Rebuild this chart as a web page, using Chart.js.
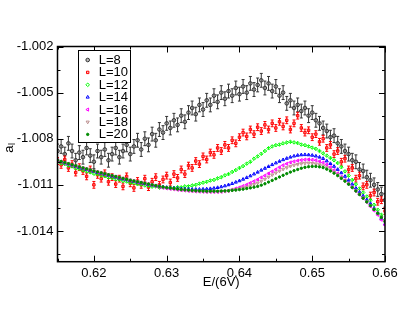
<!DOCTYPE html>
<html>
<head>
<meta charset="utf-8">
<script src="https://cdn.jsdelivr.net/npm/chart.js@4.4.0/dist/chart.umd.min.js"></script>
<style>
  body { margin: 0; background: #fff; }
  #wrap { width: 402px; height: 311px; }
</style>
</head>
<body>
<div id="wrap"><canvas id="chart" width="402" height="311"></canvas></div>
<script>
// E/(6V) grid shared by all sets
const xValues = [
  0.6150, 0.6155, 0.6160, 0.6165, 0.6170, 0.6175, 0.6180, 0.6185, 0.6190, 0.6195,
  0.6200, 0.6205, 0.6210, 0.6215, 0.6220, 0.6225, 0.6230, 0.6235, 0.6240, 0.6245,
  0.6250, 0.6255, 0.6260, 0.6265, 0.6270, 0.6275, 0.6280, 0.6285, 0.6290, 0.6295,
  0.6300, 0.6305, 0.6310, 0.6315, 0.6320, 0.6325, 0.6330, 0.6335, 0.6340, 0.6345,
  0.6350, 0.6355, 0.6360, 0.6365, 0.6370, 0.6375, 0.6380, 0.6385, 0.6390, 0.6395,
  0.6400, 0.6405, 0.6410, 0.6415, 0.6420, 0.6425, 0.6430, 0.6435, 0.6440, 0.6445,
  0.6450, 0.6455, 0.6460, 0.6465, 0.6470, 0.6475, 0.6480, 0.6485, 0.6490, 0.6495,
  0.6500, 0.6505, 0.6510, 0.6515, 0.6520, 0.6525, 0.6530, 0.6535, 0.6540, 0.6545,
  0.6550, 0.6555, 0.6560, 0.6565, 0.6570, 0.6575, 0.6580, 0.6585, 0.6590, 0.6595,
  0.6600
];

const seriesLabels = ['L=8', 'L=10', 'L=12', 'L=14', 'L=16', 'L=18', 'L=20'];

const aL8 = [
  -1.00880, -1.00850, -1.00900, -1.00830, -1.00880, -1.00940, -1.00890, -1.00920, -1.00860, -1.00910,
  -1.00950, -1.00880, -1.00920, -1.00870, -1.00940, -1.00900, -1.00860, -1.00920, -1.00880, -1.00840,
  -1.00900, -1.00850, -1.00810, -1.00870, -1.00800, -1.00840, -1.00770, -1.00810, -1.00740, -1.00760,
  -1.00700, -1.00730, -1.00680, -1.00710, -1.00650, -1.00690, -1.00630, -1.00600, -1.00640, -1.00580,
  -1.00610, -1.00550, -1.00580, -1.00520, -1.00560, -1.00500, -1.00540, -1.00490, -1.00520, -1.00470,
  -1.00510, -1.00460, -1.00500, -1.00440, -1.00480, -1.00450, -1.00420, -1.00470, -1.00440, -1.00490,
  -1.00460, -1.00520, -1.00500, -1.00570, -1.00550, -1.00600, -1.00580, -1.00620, -1.00600, -1.00650,
  -1.00630, -1.00680, -1.00700, -1.00730, -1.00750, -1.00790, -1.00780, -1.00830, -1.00850, -1.00880,
  -1.00900, -1.00940, -1.00950, -1.01000, -1.01010, -1.01050, -1.01070, -1.01100, -1.01130, -1.01160,
  -1.01200
];

const aL10 = [
  -1.00945, -1.00970, -1.00935, -1.00990, -1.00965, -1.01020, -1.00985, -1.01010, -1.01045, -1.01000,
  -1.01100, -1.01035, -1.01060, -1.01025, -1.01080, -1.01050, -1.01095, -1.01060, -1.01110, -1.01045,
  -1.01090, -1.01120, -1.01075, -1.01100, -1.01060, -1.01115, -1.01080, -1.01050, -1.01100, -1.01065,
  -1.01040, -1.01085, -1.01030, -1.01055, -1.01000, -1.01030, -1.00975, -1.00990, -1.00945, -1.00965,
  -1.00915, -1.00935, -1.00890, -1.00905, -1.00860, -1.00880, -1.00840, -1.00860, -1.00810, -1.00830,
  -1.00790, -1.00760, -1.00785, -1.00740, -1.00770, -1.00725, -1.00750, -1.00710, -1.00740, -1.00700,
  -1.00730, -1.00690, -1.00720, -1.00680, -1.00740, -1.00700, -1.00650, -1.00730, -1.00760, -1.00745,
  -1.00790, -1.00770, -1.00820, -1.00800, -1.00860, -1.00840, -1.00900, -1.00880, -1.00950, -1.00930,
  -1.01000, -1.00990, -1.01060, -1.01040, -1.01110, -1.01100, -1.01170, -1.01150, -1.01210, -1.01200,
  -1.01270
];

const aL12 = [
  -1.00950, -1.00960, -1.00965, -1.00975, -1.00980, -1.00992, -1.00996, -1.01005, -1.01012, -1.01018,
  -1.01028, -1.01030, -1.01040, -1.01044, -1.01052, -1.01055, -1.01064, -1.01066, -1.01075, -1.01078,
  -1.01086, -1.01088, -1.01096, -1.01098, -1.01104, -1.01106, -1.01112, -1.01110, -1.01118, -1.01116,
  -1.01120, -1.01118, -1.01120, -1.01115, -1.01116, -1.01110, -1.01110, -1.01104, -1.01100, -1.01092,
  -1.01086, -1.01080, -1.01072, -1.01068, -1.01058, -1.01050, -1.01038, -1.01030, -1.01016, -1.01004,
  -1.00990, -1.00978, -1.00962, -1.00950, -1.00930, -1.00915, -1.00898, -1.00880, -1.00862, -1.00850,
  -1.00842, -1.00838, -1.00830, -1.00825, -1.00820, -1.00824, -1.00828, -1.00838, -1.00842, -1.00850,
  -1.00858, -1.00866, -1.00880, -1.00895, -1.00910, -1.00925, -1.00940, -1.00958, -1.00985, -1.01012,
  -1.01040, -1.01068, -1.01096, -1.01124, -1.01150, -1.01176, -1.01200, -1.01230, -1.01262, -1.01295,
  -1.01328
];

const aL14 = [
  -1.00942, -1.00950, -1.00958, -1.00965, -1.00972, -1.00980, -1.00987, -1.00994, -1.01000, -1.01007,
  -1.01014, -1.01020, -1.01026, -1.01032, -1.01038, -1.01044, -1.01050, -1.01056, -1.01062, -1.01067,
  -1.01073, -1.01078, -1.01083, -1.01088, -1.01093, -1.01098, -1.01102, -1.01106, -1.01110, -1.01114,
  -1.01117, -1.01120, -1.01122, -1.01124, -1.01126, -1.01127, -1.01128, -1.01129, -1.01129, -1.01129,
  -1.01128, -1.01127, -1.01125, -1.01122, -1.01118, -1.01113, -1.01107, -1.01100, -1.01092, -1.01083,
  -1.01074, -1.01064, -1.01053, -1.01042, -1.01030, -1.01018, -1.01005, -1.00993, -1.00981, -1.00969,
  -1.00958, -1.00947, -1.00937, -1.00928, -1.00920, -1.00913, -1.00908, -1.00905, -1.00904, -1.00905,
  -1.00908, -1.00913, -1.00920, -1.00929, -1.00945, -1.00962, -1.00980, -1.01000, -1.01022, -1.01045,
  -1.01070, -1.01096, -1.01122, -1.01147, -1.01172, -1.01197, -1.01222, -1.01252, -1.01283, -1.01318,
  -1.01355
];

const aL16 = [
  -1.00941, -1.00949, -1.00956, -1.00963, -1.00970, -1.00977, -1.00984, -1.00991, -1.00997, -1.01004,
  -1.01011, -1.01017, -1.01023, -1.01029, -1.01035, -1.01041, -1.01047, -1.01053, -1.01059, -1.01065,
  -1.01071, -1.01076, -1.01081, -1.01086, -1.01091, -1.01096, -1.01101, -1.01106, -1.01115, -1.01119,
  -1.01123, -1.01126, -1.01129, -1.01132, -1.01135, -1.01137, -1.01139, -1.01141, -1.01143, -1.01144,
  -1.01145, -1.01146, -1.01146, -1.01146, -1.01146, -1.01145, -1.01142, -1.01138, -1.01131, -1.01124,
  -1.01117, -1.01108, -1.01099, -1.01088, -1.01077, -1.01066, -1.01052, -1.01040, -1.01026, -1.01013,
  -1.01000, -1.00986, -1.00973, -1.00963, -1.00954, -1.00948, -1.00943, -1.00939, -1.00936, -1.00935,
  -1.00937, -1.00940, -1.00947, -1.00955, -1.00968, -1.00985, -1.01004, -1.01025, -1.01048, -1.01069,
  -1.01092, -1.01116, -1.01140, -1.01163, -1.01187, -1.01213, -1.01240, -1.01267, -1.01295, -1.01327,
  -1.01360
];

const aL18 = [
  -1.00939, -1.00947, -1.00954, -1.00961, -1.00968, -1.00975, -1.00982, -1.00989, -1.00995, -1.01002,
  -1.01009, -1.01015, -1.01021, -1.01027, -1.01033, -1.01039, -1.01045, -1.01051, -1.01057, -1.01063,
  -1.01069, -1.01074, -1.01079, -1.01084, -1.01089, -1.01094, -1.01099, -1.01104, -1.01112, -1.01116,
  -1.01120, -1.01123, -1.01126, -1.01129, -1.01132, -1.01134, -1.01136, -1.01138, -1.01140, -1.01141,
  -1.01142, -1.01143, -1.01143, -1.01143, -1.01143, -1.01142, -1.01141, -1.01140, -1.01133, -1.01130,
  -1.01125, -1.01120, -1.01114, -1.01106, -1.01097, -1.01088, -1.01076, -1.01063, -1.01049, -1.01035,
  -1.01022, -1.01010, -1.00998, -1.00988, -1.00979, -1.00972, -1.00967, -1.00962, -1.00959, -1.00958,
  -1.00960, -1.00963, -1.00969, -1.00976, -1.00988, -1.01002, -1.01017, -1.01034, -1.01053, -1.01072,
  -1.01093, -1.01116, -1.01138, -1.01161, -1.01185, -1.01209, -1.01233, -1.01258, -1.01283, -1.01310,
  -1.01338
];

const aL20 = [
  -1.00940, -1.00948, -1.00955, -1.00962, -1.00969, -1.00976, -1.00983, -1.00990, -1.00996, -1.01003,
  -1.01010, -1.01016, -1.01022, -1.01028, -1.01034, -1.01040, -1.01046, -1.01052, -1.01058, -1.01064,
  -1.01070, -1.01075, -1.01080, -1.01085, -1.01090, -1.01095, -1.01100, -1.01105, -1.01110, -1.01114,
  -1.01118, -1.01121, -1.01124, -1.01127, -1.01130, -1.01132, -1.01134, -1.01136, -1.01138, -1.01139,
  -1.01140, -1.01141, -1.01141, -1.01141, -1.01141, -1.01140, -1.01139, -1.01138, -1.01136, -1.01134,
  -1.01131, -1.01128, -1.01124, -1.01120, -1.01115, -1.01110, -1.01102, -1.01093, -1.01082, -1.01071,
  -1.01060, -1.01049, -1.01038, -1.01027, -1.01017, -1.01008, -1.01000, -1.00992, -1.00986, -1.00982,
  -1.00980, -1.00980, -1.00983, -1.00988, -1.00998, -1.01010, -1.01024, -1.01040, -1.01058, -1.01076,
  -1.01096, -1.01118, -1.01140, -1.01163, -1.01187, -1.01211, -1.01235, -1.01260, -1.01285, -1.01312,
  -1.01340
];

// half-height of the error bar of each set
const errorBars = [0.00045, 0.00022, 0.00008, 0.00005, 0.00004, 0.00004, 0.00003];

// ticks: empty label = minor tick
const xTickValues = [0.615, 0.620, 0.625, 0.630, 0.635, 0.640, 0.645, 0.650, 0.655, 0.660];
const xTickLabels = ['', '0.62', '', '0.63', '', '0.64', '', '0.65', '', '0.66'];
const yTickValues = [-1.0155, -1.014, -1.0125, -1.011, -1.0095, -1.008, -1.0065, -1.005, -1.0035, -1.002];
const yTickLabels = ['', '-1.014', '', '-1.011', '', '-1.008', '', '-1.005', '', '-1.002'];

const allSeries = [aL8, aL10, aL12, aL14, aL16, aL18, aL20];

// marker look per set (grace-like colours)
const markerStyles = [
  { color: '#333333', fill: 'rgba(120,120,120,0.5)', shape: 'circle', r: 1.8, rot: 0 },
  { color: '#ff0000', fill: 'rgba(255,120,120,0.5)', shape: 'rect', r: 1.7, rot: 0 },
  { color: '#00ff00', fill: 'rgba(0,0,0,0)', shape: 'rectRot', r: 1.8, rot: 0 },
  { color: '#0000ff', fill: 'rgba(0,0,0,0)', shape: 'triangle', r: 1.8, rot: 0 },
  { color: '#ff00ff', fill: 'rgba(0,0,0,0)', shape: 'triangle', r: 1.8, rot: 270 },
  { color: '#bc8f8f', fill: 'rgba(0,0,0,0)', shape: 'triangle', r: 1.8, rot: 180 },
  { color: '#008b00', fill: '#008b00', shape: 'circle', r: 1.2, rot: 0 }
];

const FONT = '"Liberation Sans", Arial, sans-serif';

const datasets = allSeries.map(function (vals, i) {
  const st = markerStyles[i];
  return {
    label: seriesLabels[i],
    data: vals.map(function (v, j) { return { x: xValues[j], y: v }; }),
    pointStyle: st.shape,
    pointRadius: st.r,
    pointRotation: st.rot,
    pointBorderWidth: 1,
    borderColor: st.color,
    backgroundColor: st.fill,
    pointBackgroundColor: st.fill,
    order: allSeries.length - i
  };
});

// error bars, drawn just under each set's markers
const errorBarPlugin = {
  id: 'errorBars',
  beforeDatasetDraw(chart, args) {
    const ctx = chart.ctx;
    const a = chart.chartArea;
    const y = chart.scales.y;
    const err = errorBars[args.index];
    const ds = chart.data.datasets[args.index];
    ctx.save();
    ctx.beginPath();
    ctx.rect(a.left, a.top, a.right - a.left, a.bottom - a.top);
    ctx.clip();
    ctx.strokeStyle = ds.borderColor;
    ctx.lineWidth = 1;
    ctx.beginPath();
    args.meta.data.forEach(function (pt, j) {
      const v = ds.data[j].y;
      const y1 = y.getPixelForValue(v + err);
      const y2 = y.getPixelForValue(v - err);
      ctx.moveTo(pt.x, y1); ctx.lineTo(pt.x, y2);
      if (y2 - y1 > 4) {
        ctx.moveTo(pt.x - 1.5, y1); ctx.lineTo(pt.x + 1.5, y1);
        ctx.moveTo(pt.x - 1.5, y2); ctx.lineTo(pt.x + 1.5, y2);
      }
    });
    ctx.stroke();
    ctx.restore();
  }
};

// frame with inward ticks on all four sides, plus axis titles
const framePlugin = {
  id: 'frame',
  afterDatasetsDraw(chart) {
    const ctx = chart.ctx;
    const a = chart.chartArea;
    const x = chart.scales.x;
    const y = chart.scales.y;
    ctx.save();
    ctx.strokeStyle = '#000';
    ctx.lineWidth = 1;
    ctx.beginPath();
    xTickValues.forEach(function (v, i) {
      const px = Math.round(x.getPixelForValue(v)) + 0.5;
      const len = xTickLabels[i] ? 6 : 3;
      ctx.moveTo(px, a.bottom); ctx.lineTo(px, a.bottom - len);
      ctx.moveTo(px, a.top); ctx.lineTo(px, a.top + len);
    });
    yTickValues.forEach(function (v, i) {
      const py = Math.round(y.getPixelForValue(v)) + 0.5;
      const len = yTickLabels[i] ? 6 : 3;
      ctx.moveTo(a.left, py); ctx.lineTo(a.left + len, py);
      ctx.moveTo(a.right, py); ctx.lineTo(a.right - len, py);
    });
    ctx.stroke();
    ctx.lineWidth = 1.5;
    ctx.strokeRect(a.left, a.top, a.right - a.left, a.bottom - a.top);

    ctx.fillStyle = '#000';
    ctx.font = '13px ' + FONT;
    ctx.textAlign = 'center';
    ctx.textBaseline = 'middle';
    ctx.fillText('E/(6V)', (a.left + a.right) / 2, a.bottom + 21);

    // y title: a with subscript l, rotated
    ctx.translate(9, (a.top + a.bottom) / 2 - 5);
    ctx.rotate(-Math.PI / 2);
    ctx.fillText('a', 0, 0);
    ctx.font = '9px ' + FONT;
    ctx.fillText('l', 5, 4);
    ctx.restore();
  }
};

// boxed legend in the upper left of the plot
const legendPlugin = {
  id: 'boxLegend',
  afterDraw(chart) {
    const ctx = chart.ctx;
    const a = chart.chartArea;
    const bx = Math.round(a.left + 20) + 0.5;
    const by = Math.round(a.top + 3) + 0.5;
    const bw = 52, bh = 92;
    ctx.save();
    ctx.fillStyle = '#fff';
    ctx.fillRect(bx, by, bw, bh);
    ctx.strokeStyle = '#000';
    ctx.lineWidth = 1;
    ctx.strokeRect(bx, by, bw, bh);
    ctx.font = '13px ' + FONT;
    ctx.textAlign = 'left';
    ctx.textBaseline = 'middle';
    chart.data.datasets.forEach(function (ds, i) {
      const cy = by + 9.5 + i * 12.4;
      const cx = bx + 9.2;
      ctx.strokeStyle = ds.borderColor;
      ctx.fillStyle = ds.pointBackgroundColor;
      if (Chart.helpers && Chart.helpers.drawPoint) {
        Chart.helpers.drawPoint(ctx, {
          pointStyle: ds.pointStyle, radius: ds.pointRadius,
          rotation: ds.pointRotation, borderWidth: 1
        }, cx, cy);
      } else {
        ctx.strokeRect(cx - 1.5, cy - 1.5, 3, 3);
      }
      ctx.fillStyle = '#000';
      ctx.fillText(ds.label, bx + 20.2, cy + 0.5);
    });
    ctx.restore();
  }
};

Chart.defaults.font.family = FONT;
Chart.defaults.font.size = 13;
Chart.defaults.color = '#000';

new Chart(document.getElementById('chart'), {
  type: 'scatter',
  data: { datasets: datasets },
  options: {
    responsive: false,
    animation: false,
    devicePixelRatio: 1,
    layout: { padding: { top: 46.5, right: 17, left: 0, bottom: 0 } },
    plugins: {
      legend: { display: false },
      tooltip: { enabled: false }
    },
    scales: {
      x: {
        type: 'linear',
        min: 0.615,
        max: 0.66,
        grid: { display: false, drawTicks: false },
        border: { display: false },
        afterBuildTicks: function (scale) {
          scale.ticks = xTickValues.map(function (v) { return { value: v }; });
        },
        afterFit: function (scale) { scale.height = 49.3; },
        ticks: {
          autoSkip: false,
          maxRotation: 0,
          padding: 4,
          callback: function (value, index) { return xTickLabels[index]; }
        }
      },
      y: {
        type: 'linear',
        min: -1.016,
        max: -1.002,
        grid: { display: false, drawTicks: false },
        border: { display: false },
        afterBuildTicks: function (scale) {
          scale.ticks = yTickValues.map(function (v) { return { value: v }; });
        },
        afterFit: function (scale) { scale.width = 57.5; },
        ticks: {
          autoSkip: false,
          padding: 4,
          callback: function (value, index) { return yTickLabels[index]; }
        }
      }
    }
  },
  plugins: [errorBarPlugin, framePlugin, legendPlugin]
});
</script>
</body>
</html>
